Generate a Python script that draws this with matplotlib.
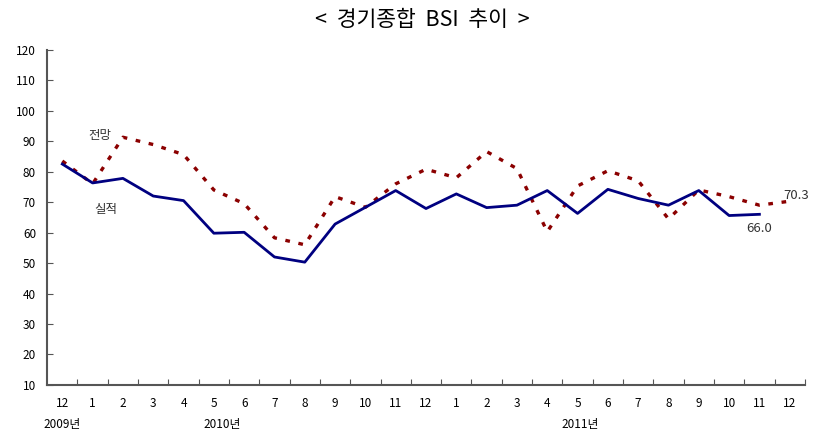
import matplotlib
matplotlib.use("Agg")
import matplotlib.pyplot as plt
from matplotlib.transforms import blended_transform_factory

plt.rcParams['font.family'] = ['Noto Sans CJK KR', 'DejaVu Sans']

# ── 데이터 ─────────────────────────────────────────────────────────────────────
months   = ["12", "1", "2", "3", "4", "5", "6", "7", "8", "9", "10", "11", "12",
            "1", "2", "3", "4", "5", "6", "7", "8", "9", "10", "11", "12"]
actual   = [82.5, 76.3, 77.8, 72.0, 70.5, 59.8, 60.1, 52.0, 50.3, 62.8, 68.3, 73.8, 67.9,
            72.7, 68.2, 69.0, 73.8, 66.3, 74.2, 71.2, 69.0, 73.8, 65.6, 66.0]
forecast = [83.5, 76.0, 91.3, 88.9, 85.6, 74.0, 69.5, 58.3, 56.0, 71.8, 68.3, 76.0, 80.8,
            78.0, 86.6, 81.0, 60.3, 75.3, 80.3, 77.0, 64.5, 74.0, 71.8, 69.0, 70.3]
years    = ["2009년", "2010년", "2011년"]
year_pos = [0, 5.28, 17.1]

navy = "#000080"
red  = "#8B0000"
grey = "#333333"

fig = plt.figure(figsize=(8.13, 4.33), dpi=100)
ax = fig.add_axes([0.058, 0.111, 0.932, 0.774])

x_act = list(range(len(actual)))
x_fc  = list(range(len(forecast)))
ax.plot(x_fc, forecast, color=red, lw=2.4, linestyle=(0, (1.4, 2.6)), zorder=2)
ax.plot(x_act, actual, color=navy, lw=2.0, zorder=3)

ax.set_xlim(-0.5, len(months) - 0.5)
ax.set_ylim(10, 120)
ax.set_yticks(range(10, 121, 10))
ax.tick_params(axis="y", direction="in", length=4, labelsize=8.5, colors="#555555",
               labelcolor="black", pad=8)

# x 눈금은 구간 경계에, 라벨은 구간 가운데
ax.set_xticks([i + 0.5 for i in range(len(months) - 1)] + [len(months) - 0.5])
ax.set_xticklabels([])
ax.set_xticks(range(len(months)), minor=True)
ax.set_xticklabels(months, minor=True)
ax.tick_params(axis="x", which="major", direction="in", length=4, colors="#555555")
ax.tick_params(axis="x", which="minor", length=0, labelsize=8.5, pad=9)

for s in ["top", "right"]:
    ax.spines[s].set_visible(False)
for s in ["left", "bottom"]:
    ax.spines[s].set_color("#555555")
    ax.spines[s].set_linewidth(1.5)

trans = blended_transform_factory(ax.transData, ax.transAxes)
for lab, p in zip(years, year_pos):
    ax.text(p, -0.118, lab, transform=trans, ha="center", va="center", fontsize=8.5)

ax.text(1.25, 92.0, "전망", fontsize=9, color=grey, ha="center", va="center")
ax.text(1.45, 67.5, "실적", fontsize=9, color=grey, ha="center", va="center")
ax.text(len(actual) - 1, 63.5, "66.0", fontsize=9.5, color=grey, ha="center", va="top")
ax.text(len(forecast) - 1.2, 72.2, "70.3", fontsize=9.5, color=grey, ha="left", va="center")

fig.text(0.52, 0.953, "<  경기종합  BSI  추이  >", ha="center", va="center", fontsize=15.5)

plt.savefig("out.png", dpi=100)
plt.close()
